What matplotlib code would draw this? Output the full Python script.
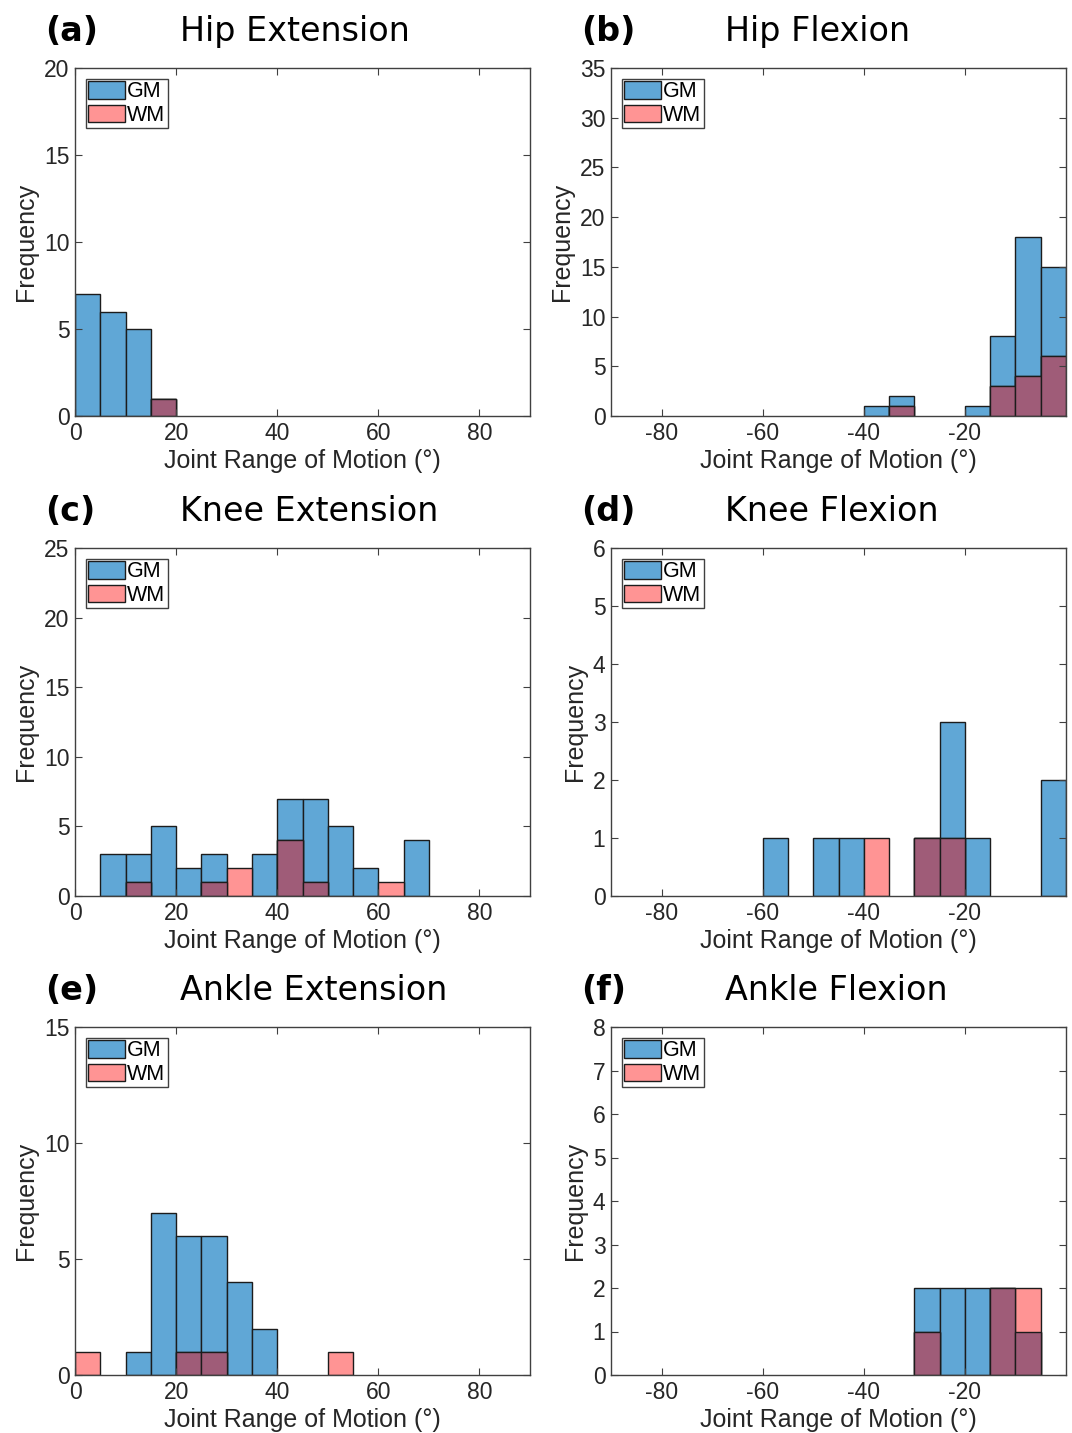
import matplotlib.pyplot as plt
import numpy as np
from matplotlib.patches import Patch

# bin width is 5 deg; each list gives the left edge of a bin and the counts
bin_w = 5

hip_ext_left = [0, 5, 10, 15]
hip_ext_gm = [7, 6, 5, 1]
hip_ext_wm = [0, 0, 0, 1]

hip_flex_left = [-40, -35, -20, -15, -10, -5]
hip_flex_gm = [1, 2, 1, 8, 18, 15]
hip_flex_wm = [0, 1, 0, 3, 4, 6]

knee_ext_left = [5, 10, 15, 20, 25, 30, 35, 40, 45, 50, 55, 60, 65]
knee_ext_gm = [3, 3, 5, 2, 3, 0, 3, 7, 7, 5, 2, 0, 4]
knee_ext_wm = [0, 1, 0, 0, 1, 2, 0, 4, 1, 0, 0, 1, 0]

knee_flex_left = [-60, -50, -45, -40, -30, -25, -20, -5]
knee_flex_gm = [1, 1, 1, 0, 1, 3, 1, 2]
knee_flex_wm = [0, 0, 0, 1, 1, 1, 0, 0]

ankle_ext_left = [0, 10, 15, 20, 25, 30, 35, 50]
ankle_ext_gm = [0, 1, 7, 6, 6, 4, 2, 0]
ankle_ext_wm = [1, 0, 0, 1, 1, 0, 0, 1]

ankle_flex_left = [-30, -25, -20, -15, -10]
ankle_flex_gm = [2, 2, 2, 2, 1]
ankle_flex_wm = [1, 0, 0, 2, 2]

letters = ['(a)', '(b)', '(c)', '(d)', '(e)', '(f)']
titles = ['Hip Extension', 'Hip Flexion', 'Knee Extension', 'Knee Flexion',
          'Ankle Extension', 'Ankle Flexion']
ymax = [20, 35, 25, 6, 15, 8]
ystep = [5, 5, 5, 1, 5, 1]

panels = [
    (hip_ext_left, hip_ext_gm, hip_ext_wm),
    (hip_flex_left, hip_flex_gm, hip_flex_wm),
    (knee_ext_left, knee_ext_gm, knee_ext_wm),
    (knee_flex_left, knee_flex_gm, knee_flex_wm),
    (ankle_ext_left, ankle_ext_gm, ankle_ext_wm),
    (ankle_flex_left, ankle_flex_gm, ankle_flex_wm),
]

GM_C = '#60A7D6'
WM_C = '#FF9494'
BOTH_C = '#9F5C78'
EDGE = '#1c1c1c'
AX_C = '#404040'
TXT_C = '#262626'

plt.rcParams['font.family'] = ['Liberation Sans', 'DejaVu Sans']
plt.rcParams['axes.unicode_minus'] = False

fig = plt.figure(figsize=(10.72, 14.33), dpi=100)

W, H = 1072, 1433
col_left = [75, 611]
row_top = [68, 548, 1027]
ax_w, ax_h = 455, 348
title_off = [105, 114]

for i, (left, gm, wm) in enumerate(panels):
    r, c = divmod(i, 2)
    ax = fig.add_axes([col_left[c] / W, 1 - (row_top[r] + ax_h) / H, ax_w / W, ax_h / H])

    left = np.array(left)
    gm = np.array(gm)
    wm = np.array(wm)
    both = np.minimum(gm, wm)

    m = gm > 0
    ax.bar(left[m], gm[m], width=bin_w, align='edge', color=GM_C, edgecolor=EDGE, linewidth=1)
    m = wm > 0
    ax.bar(left[m], wm[m], width=bin_w, align='edge', color=WM_C, edgecolor=EDGE, linewidth=1)
    m = both > 0
    ax.bar(left[m], both[m], width=bin_w, align='edge', color=BOTH_C, edgecolor=EDGE, linewidth=1)

    if c == 0:
        ax.set_xlim(0, 90)
        ax.set_xticks([0, 20, 40, 60, 80])
    else:
        ax.set_xlim(-90, 0)
        ax.set_xticks([-80, -60, -40, -20])
    ax.set_ylim(0, ymax[i])
    ax.set_yticks(np.arange(0, ymax[i] + 1, ystep[i]))

    ax.tick_params(direction='in', top=True, right=True, length=5, width=0.8,
                   labelsize=16.5, colors=AX_C, labelcolor=TXT_C, pad=4)
    for s in ax.spines.values():
        s.set_color(AX_C)
        s.set_linewidth(1)

    ax.set_xlabel('Joint Range of Motion (°)', fontsize=18, color=TXT_C, labelpad=3)
    ax.set_ylabel('Frequency', fontsize=18, color=TXT_C, labelpad=4)

    handles = [Patch(facecolor=GM_C, edgecolor=EDGE), Patch(facecolor=WM_C, edgecolor=EDGE)]
    leg = ax.legend(handles, ['GM', 'WM'], loc='upper left', fontsize=15.5,
                    fancybox=False, framealpha=1, edgecolor=AX_C,
                    handlelength=1.7, handleheight=0.85, handletextpad=0.1,
                    borderpad=0.12, labelspacing=0.1, borderaxespad=0.5)
    leg.get_frame().set_linewidth(1)

    ax.annotate(letters[i], xy=(0, 1), xycoords='axes fraction',
                xytext=(-30, 27), textcoords='offset pixels',
                fontsize=24, fontweight='bold', family='DejaVu Sans',
                ha='left', va='baseline')
    ax.annotate(titles[i], xy=(0, 1), xycoords='axes fraction',
                xytext=(title_off[c], 27), textcoords='offset pixels',
                fontsize=24, family='DejaVu Sans', ha='left', va='baseline')

fig.savefig('out.png', dpi=100)
